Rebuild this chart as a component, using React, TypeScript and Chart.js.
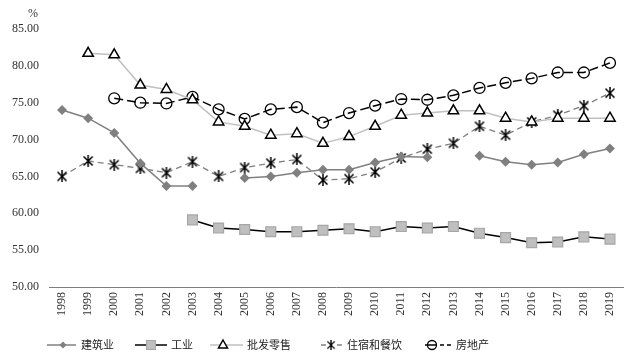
import React, { useEffect, useRef } from "react";
import { Chart, registerables } from "chart.js";

Chart.register(...registerables);

const years = ["1998","1999","2000","2001","2002","2003","2004","2005","2006","2007","2008","2009","2010","2011","2012","2013","2014","2015","2016","2017","2018","2019"];

const construction = [74.0, 72.9, 70.9, 66.8, 63.7, 63.7, null, 64.8, 65.0, 65.5, 65.9, 65.9, 66.9, 67.7, 67.6, null, 67.8, 67.0, 66.6, 66.9, 68.0, 68.8];
const industry = [null, null, null, null, null, 59.1, 58.0, 57.8, 57.5, 57.5, 57.7, 57.9, 57.5, 58.2, 58.0, 58.2, 57.3, 56.7, 56.0, 56.1, 56.8, 56.5];
const wholesale = [null, 81.7, 81.5, 77.4, 76.8, 75.4, 72.4, 71.8, 70.6, 70.8, 69.5, 70.4, 71.8, 73.3, 73.6, 73.9, 73.9, 72.9, 72.4, 72.9, 72.9, 72.9];
const hospitality = [65.0, 67.1, 66.6, 66.1, 65.5, 67.0, 65.0, 66.2, 66.8, 67.3, 64.5, 64.7, 65.6, 67.5, 68.7, 69.5, 71.8, 70.6, 72.4, 73.3, 74.6, 76.3];
const realEstate = [null, null, 75.6, 75.0, 74.9, 75.8, 74.1, 72.8, 74.1, 74.4, 72.3, 73.6, 74.6, 75.5, 75.4, 76.0, 77.0, 77.7, 78.3, 79.1, 79.1, 80.4];

const seriesNames = ["建筑业", "工业", "批发零售", "住宿和餐饮", "房地产"];
const yTicks = [50, 55, 60, 65, 70, 75, 80, 85];

const SERIF = "'Liberation Serif', 'Noto Sans CJK SC', serif";

function makeAsterisk(): HTMLCanvasElement {
  const c = document.createElement("canvas");
  c.width = 12;
  c.height = 12;
  const g = c.getContext("2d")!;
  g.strokeStyle = "#000";
  g.lineWidth = 1.5;
  g.beginPath();
  g.moveTo(1.5, 1.5); g.lineTo(10.5, 10.5);
  g.moveTo(10.5, 1.5); g.lineTo(1.5, 10.5);
  g.moveTo(6, 0); g.lineTo(6, 12);
  g.stroke();
  return c;
}

export default function App() {
  const ref = useRef<HTMLCanvasElement | null>(null);
  useEffect(() => {
    if (!ref.current) return;
    const asterisk = makeAsterisk();

    const legendPlugin = {
      id: "customLegend",
      afterDraw(chart: any) {
        const ctx = chart.ctx as CanvasRenderingContext2D;
        const y = 345;
        ctx.save();
        ctx.fillStyle = "#333";
        ctx.font = `12px ${SERIF}`;
        ctx.textAlign = "center";
        ctx.textBaseline = "middle";
        ctx.fillText("%", 33, 14);

        ctx.textAlign = "left";
        ctx.font = `11px ${SERIF}`;
        const items = [
          { segs: [[47, 76]], mx: 63, tx: 81, color: "#808080", marker: "diamond" },
          { segs: [[135, 167]], mx: 151, tx: 171, color: "#000", marker: "square" },
          { segs: [[210, 243]], mx: 223, tx: 247, color: "#c0c0c0", marker: "triangle" },
          { segs: [[321, 326], [337, 342]], mx: 331, tx: 347, color: "#808080", marker: "asterisk" },
          { segs: [[425, 437], [440, 444], [447, 451]], mx: 432, tx: 456, color: "#000", marker: "circle" },
        ];
        items.forEach((it, i) => {
          ctx.beginPath();
          ctx.strokeStyle = it.color;
          ctx.lineWidth = 1.5;
          it.segs.forEach(([a, b]) => { ctx.moveTo(a, y); ctx.lineTo(b, y); });
          ctx.stroke();
          if (it.marker === "diamond") {
            ctx.beginPath();
            ctx.fillStyle = "#808080";
            ctx.moveTo(it.mx, y - 3.5); ctx.lineTo(it.mx + 3.5, y); ctx.lineTo(it.mx, y + 3.5); ctx.lineTo(it.mx - 3.5, y);
            ctx.closePath(); ctx.fill();
          } else if (it.marker === "square") {
            ctx.fillStyle = "#bfbfbf"; ctx.strokeStyle = "#a6a6a6"; ctx.lineWidth = 1;
            ctx.fillRect(it.mx - 4.5, y - 4.5, 9, 9);
            ctx.strokeRect(it.mx - 4.5, y - 4.5, 9, 9);
          } else if (it.marker === "triangle") {
            ctx.beginPath();
            ctx.fillStyle = "#fff"; ctx.strokeStyle = "#000"; ctx.lineWidth = 1.5;
            ctx.moveTo(it.mx, y - 5); ctx.lineTo(it.mx + 4.5, y + 3); ctx.lineTo(it.mx - 4.5, y + 3);
            ctx.closePath(); ctx.fill(); ctx.stroke();
          } else if (it.marker === "asterisk") {
            ctx.drawImage(asterisk, it.mx - 5, y - 5, 10, 10);
          } else if (it.marker === "circle") {
            ctx.beginPath();
            ctx.strokeStyle = "#000"; ctx.lineWidth = 1.3;
            ctx.arc(it.mx, y, 4.5, 0, Math.PI * 2);
            ctx.stroke();
          }
          ctx.fillStyle = "#222";
          ctx.fillText(seriesNames[i], it.tx, y + 1);
        });
        ctx.restore();
      },
    };

    const chart = new Chart(ref.current, {
      type: "line",
      data: {
        labels: years,
        datasets: [
          {
            label: seriesNames[0], data: construction,
            borderColor: "#808080", borderWidth: 1.5,
            pointStyle: "rectRot", pointRadius: 5, pointBackgroundColor: "#808080", pointBorderColor: "#808080", pointBorderWidth: 0,
            spanGaps: false,
          },
          {
            label: seriesNames[1], data: industry,
            borderColor: "#000", borderWidth: 1.5,
            pointStyle: "rect", pointRadius: 7, pointBackgroundColor: "#bfbfbf", pointBorderColor: "#a6a6a6", pointBorderWidth: 1.2,
          },
          {
            label: seriesNames[2], data: wholesale,
            borderColor: "#c0c0c0", borderWidth: 1.5,
            pointStyle: "triangle", pointRadius: 6, pointBackgroundColor: "#fff", pointBorderColor: "#000", pointBorderWidth: 1.5,
          },
          {
            label: seriesNames[3], data: hospitality,
            borderColor: "#808080", borderWidth: 1.3, borderDash: [6, 4],
            pointStyle: asterisk as any, pointRadius: 6,
          },
          {
            label: seriesNames[4], data: realEstate,
            borderColor: "#000", borderWidth: 1.5, borderDash: [9, 4],
            pointStyle: "circle", pointRadius: 5.5, pointBackgroundColor: "rgba(0,0,0,0)", pointBorderColor: "#000", pointBorderWidth: 1.3,
          },
        ],
      },
      options: {
        animation: false,
        responsive: true,
        maintainAspectRatio: false,
        layout: { padding: { top: 29, right: 15, bottom: 35, left: 0 } },
        plugins: { legend: { display: false }, tooltip: { enabled: false } },
        scales: {
          x: {
            type: "category",
            offset: true,
            grid: { display: false, drawTicks: false },
            border: { display: true, color: "#7f7f7f", width: 1 },
            ticks: { minRotation: 90, maxRotation: 90, autoSkip: false, padding: 5, color: "#333", font: { family: SERIF, size: 12 } },
            afterFit: (s: any) => { s.height = 40; },
          },
          y: {
            min: 50, max: 85,
            afterBuildTicks: (s: any) => { s.ticks = yTicks.map((v) => ({ value: v })); },
            grid: { display: false, drawTicks: false },
            border: { display: false },
            ticks: { padding: 10, color: "#333", font: { family: SERIF, size: 12 }, callback: (v: any) => Number(v).toFixed(2) },
            afterFit: (s: any) => { s.width = 49; },
          },
        },
      },
      plugins: [legendPlugin],
    });
    return () => chart.destroy();
  }, []);

  return (
    <div style={{ position: "fixed", left: 0, top: 0, width: 638, height: 362, background: "#fff" }}>
      <canvas ref={ref} />
    </div>
  );
}
